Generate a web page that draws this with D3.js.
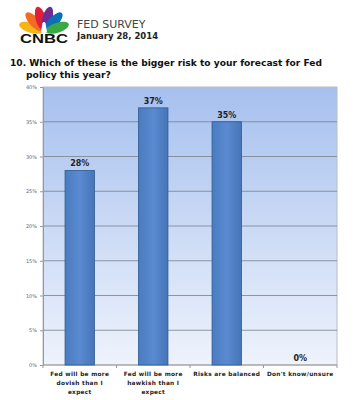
<!DOCTYPE html>
<html>
<head>
<meta charset="utf-8">
<script src="https://cdn.jsdelivr.net/npm/d3@7"></script>
<style>
  body { margin: 0; background: #fff; }
  svg { display: block; font-family: Verdana, "DejaVu Sans", sans-serif; }
</style>
</head>
<body>
<div id="chart"></div>
<script>
//////////////////////////// data ////////////////////////////
const categories = [
  ["Fed will be more", "dovish than I", "expect"],
  ["Fed will be more", "hawkish than I", "expect"],
  ["Risks are balanced"],
  ["Don't know/unsure"]
];
const values = [28, 37, 35, 0];
const yTicks = [0, 5, 10, 15, 20, 25, 30, 35, 40];

//////////////////////////// setup ////////////////////////////
const width = 354, height = 400;
const margin = { top: 87, right: 17, bottom: 35, left: 43 };
const boundedWidth = width - margin.left - margin.right;
const boundedHeight = height - margin.top - margin.bottom;

const svg = d3.select("#chart").append("svg")
  .attr("width", width).attr("height", height);

const defs = svg.append("defs");
const bg = defs.append("linearGradient").attr("id", "bg")
  .attr("x1", 0).attr("y1", 0).attr("x2", 0).attr("y2", 1);
bg.append("stop").attr("offset", "0%").attr("stop-color", "#a6c0ee");
bg.append("stop").attr("offset", "100%").attr("stop-color", "#eef3fc");

const barGrad = defs.append("linearGradient").attr("id", "bar")
  .attr("x1", 0).attr("y1", 0).attr("x2", 1).attr("y2", 0);
barGrad.append("stop").attr("offset", "0%").attr("stop-color", "#4a7cc0");
barGrad.append("stop").attr("offset", "50%").attr("stop-color", "#5a8ad0");
barGrad.append("stop").attr("offset", "100%").attr("stop-color", "#4675b8");

//////////////////////////// header ////////////////////////////
const logo = svg.append("g").attr("transform", "translate(44,32)");
const feathers = ["#f7b416", "#f26c21", "#e01e37", "#6f2c91", "#0b6fb8", "#3aa845"];
feathers.forEach((c, i) => {
  const angle = -72 + i * 28.8;
  logo.append("ellipse")
    .attr("cx", 0).attr("cy", -14).attr("rx", 5).attr("ry", 12)
    .attr("fill", c)
    .attr("transform", `rotate(${angle})`);
});
logo.append("path")
  .attr("d", "M-3,0 L-1.5,-9 Q0,-11 1.5,-9 L3,0 Z")
  .attr("fill", "#fff");
logo.append("text")
  .attr("x", 0).attr("y", 11)
  .attr("text-anchor", "middle")
  .attr("font-family", "'Liberation Sans', Arial, sans-serif")
  .attr("font-weight", "bold").attr("font-size", 13.5)
  .attr("textLength", 48).attr("lengthAdjust", "spacingAndGlyphs")
  .attr("fill", "#111").text("CNBC");

svg.append("text").attr("x", 77).attr("y", 28)
  .attr("font-size", 11).attr("fill", "#444").text("FED SURVEY");
svg.append("text").attr("x", 77).attr("y", 39)
  .attr("font-size", 8.5).attr("font-weight", "bold").attr("fill", "#222")
  .text("January 28, 2014");

svg.append("text").attr("x", 10).attr("y", 66)
  .attr("font-size", 9.2).attr("font-weight", "bold").attr("fill", "#111")
  .attr("textLength", 312).attr("lengthAdjust", "spacingAndGlyphs")
  .text("10.  Which of these is the bigger risk to your forecast for Fed");
svg.append("text").attr("x", 26).attr("y", 78)
  .attr("font-size", 9.2).attr("font-weight", "bold").attr("fill", "#111")
  .text("policy this year?");

//////////////////////////// scales ////////////////////////////
const xScale = d3.scaleBand()
  .domain(d3.range(categories.length))
  .range([0, boundedWidth])
  .paddingInner(0.6).paddingOuter(0.3);

const yScale = d3.scaleLinear()
  .domain([0, 40])
  .range([boundedHeight, 0]);

const bounds = svg.append("g")
  .attr("transform", `translate(${margin.left},${margin.top})`);

//////////////////////////// plot ////////////////////////////
bounds.append("rect")
  .attr("width", boundedWidth).attr("height", boundedHeight)
  .attr("fill", "url(#bg)")
  .attr("stroke", "#b8bcc4").attr("stroke-width", 1);

bounds.selectAll(".grid")
  .data(yTicks.filter(d => d > 0 && d < 40))
  .join("line")
  .attr("x1", 0).attr("x2", boundedWidth)
  .attr("y1", d => yScale(d)).attr("y2", d => yScale(d))
  .attr("stroke", "#78808a").attr("stroke-width", 0.8);

const yAxis = d3.axisLeft(yScale).tickValues(yTicks)
  .tickFormat(d => d + "%").tickSize(3);
bounds.append("g").call(yAxis)
  .call(g => g.select(".domain").attr("stroke", "#999"))
  .call(g => g.selectAll(".tick line").attr("stroke", "#999"))
  .call(g => g.selectAll("text").attr("font-size", 5).attr("fill", "#666")
    .attr("font-family", "Verdana, 'DejaVu Sans', sans-serif"));

// x axis line and separators
const step = boundedWidth / categories.length;
bounds.append("line")
  .attr("x1", 0).attr("x2", boundedWidth)
  .attr("y1", boundedHeight).attr("y2", boundedHeight)
  .attr("stroke", "#999");
bounds.selectAll(".xsep")
  .data(d3.range(categories.length + 1))
  .join("line")
  .attr("x1", d => d * step).attr("x2", d => d * step)
  .attr("y1", boundedHeight).attr("y2", boundedHeight + 3)
  .attr("stroke", "#999");

bounds.selectAll(".bar")
  .data(values)
  .join("rect")
  .attr("x", (d, i) => xScale(i))
  .attr("y", d => yScale(d))
  .attr("width", xScale.bandwidth())
  .attr("height", d => boundedHeight - yScale(d))
  .attr("fill", "url(#bar)")
  .attr("stroke", d => d > 0 ? "#2e5a92" : "none")
  .attr("stroke-width", 0.8);

bounds.selectAll(".val")
  .data(values)
  .join("text")
  .attr("x", (d, i) => xScale(i) + xScale.bandwidth() / 2)
  .attr("y", d => yScale(d) - 4)
  .attr("text-anchor", "middle")
  .attr("font-size", 8).attr("font-weight", "bold").attr("fill", "#222")
  .text(d => d + "%");

bounds.selectAll(".cat")
  .data(categories)
  .join("text")
  .attr("transform", (d, i) => `translate(${xScale(i) + xScale.bandwidth() / 2},${boundedHeight + 11})`)
  .attr("text-anchor", "middle")
  .attr("font-size", 5.8).attr("font-weight", "bold").attr("fill", "#222")
  .attr("letter-spacing", 0.3)
  .selectAll("tspan")
  .data(d => d)
  .join("tspan")
  .attr("x", 0).attr("dy", (d, i) => i === 0 ? 0 : 9)
  .text(d => d);
</script>
</body>
</html>
